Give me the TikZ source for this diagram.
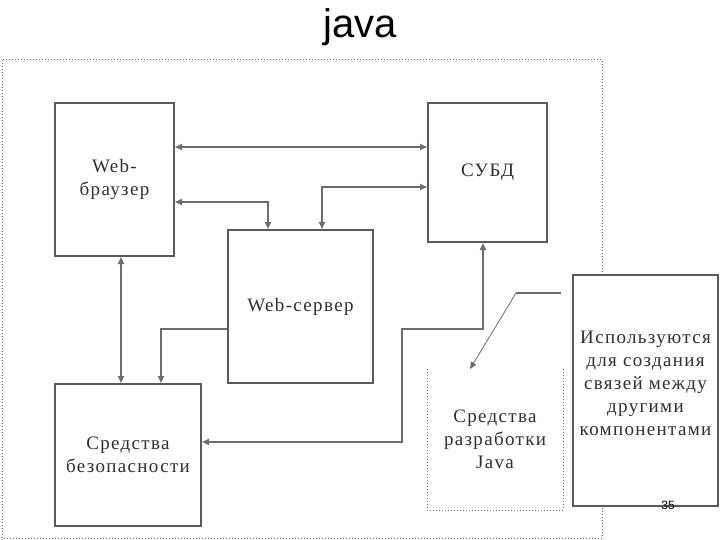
\documentclass[tikz,border=0pt]{standalone}
\usepackage{fontspec}
\setmainfont{Liberation Serif}
\newfontfamily\titlefont{Liberation Sans}
\usetikzlibrary{arrows.meta}
\definecolor{boxgray}{HTML}{5A5A5A}
\definecolor{linegray}{HTML}{6E6E6E}
\definecolor{textgray}{HTML}{303030}
\begin{document}
\begin{tikzpicture}[x=1pt,y=-1pt,
    box/.style={draw=boxgray,line width=2pt,fill=white,align=center,inner sep=0pt,text=textgray,
      font={\fontsize{19}{23}\selectfont\addfontfeature{LetterSpace=7}}},
    link/.style={draw=linegray,line width=1.6pt,>={Triangle[length=7pt,width=6pt]}}]
      \useasboundingbox (0,0) rectangle (720,540);
      \node[font={\titlefont\fontsize{40}{44}\selectfont}] (title) at (360,27) {java};
      \draw[dotted,line width=1pt,linegray] (2,60) rectangle (602,538);
      \draw
        (114.5,179.5) node[box,minimum width=119pt,minimum height=153pt] (browser){Web-\\браузер}
        (487.5,172.5) node[box,minimum width=119pt,minimum height=139pt] (dbms){СУБД}
        (300.5,306.5) node[box,minimum width=145pt,minimum height=153pt] (server){Web-сервер}
        (128,455) node[box,minimum width=146pt,minimum height=142pt] (sec){Средства\\безопасности}
        (495,439.5) node[box,draw=none,fill=none,minimum width=134pt,minimum height=139pt] (java){Средства\\разработки\\Java}
        (645.5,390.5) node[box,minimum width=145pt,minimum height=231pt,text depth=14pt] (note){Используются\\для создания\\связей между\\другими\\компонентами};
      \draw[dotted,line width=1pt,linegray] (java.north west) -- (java.south west)
        -- (java.south east) -- (java.north east);
      \node[font={\titlefont\fontsize{12}{14}\selectfont}] (page) at (668,505) {35};
      \begin{scope}[link]
        \draw[<->] (browser.east |- 0,147) to (dbms.west |- 0,147);
        \draw[<->] (browser.east |- 0,202) -| (server.north -| 268,0);
        \draw[<->] (dbms.west |- 0,187) -| (server.north -| 322,0);
        \draw[<->] (browser.south -| 121,0) to (sec.north -| 121,0);
        \draw[->] (server.west |- 0,329) -| (sec.north -| 161,0);
        \draw[<->] (dbms.south -| 483,0) |- (402,329) |- (sec.east |- 0,442);
      \end{scope}
      \coordinate (c) at (561,293);
      \draw[link] (c) -- (516,293);
      \draw[link,line width=0.8pt,->] (516,293) -- (java.north -| 470,0);
    \end{tikzpicture}
\end{document}
